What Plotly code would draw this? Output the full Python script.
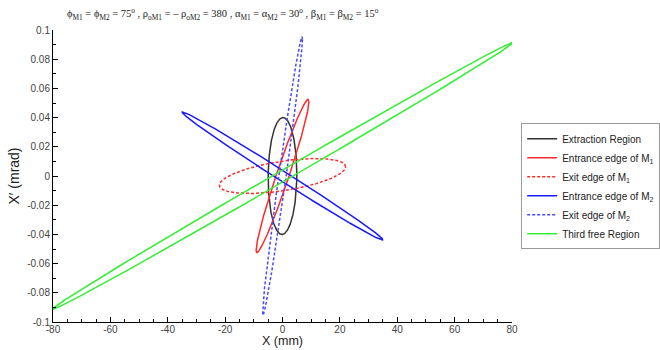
import numpy as np
import plotly.graph_objects as go

# Ellipse parameters
names = ["Extraction Region", "Entrance edge of M<sub>1</sub>", "Exit edge of M<sub>1</sub>",
         "Entrance edge of M<sub>2</sub>", "Exit edge of M<sub>2</sub>", "Third free Region"]
x_half_width = [5.0, 9.2, 22.0, 35.0, 6.95, 80.5]        # max |X| (mm)
xp_at_xmax = [0.0014, 0.0508, 0.0063, -0.0437, 0.0937, 0.0915]  # X' where X is max
xp_at_x0 = [0.040, 0.0131, 0.0102, 0.0040, 0.0178, 0.0042]     # X' half-height at X=0
colors = ["#333333", "#ff2a2a", "#ff2a2a", "#1a1aff", "#4a4aff", "#33ee33"]
dashes = ["solid", "solid", "3px,2px", "solid", "3px,2px", "solid"]

x_ticks = [-80, -60, -40, -20, 0, 20, 40, 60, 80]
x_ticklabels = ["-80", "-60", "-40", "-20", "0", "20", "40", "60", "80"]
y_ticks = [-0.1, -0.08, -0.06, -0.04, -0.02, 0, 0.02, 0.04, 0.06, 0.08, 0.1]
y_ticklabels = ["-0.1", "-0.08", "-0.06", "-0.04", "-0.02", "0", "0.02", "0.04", "0.06", "0.08", "0.1"]
title_text = ("ϕ<sub>M1</sub> = ϕ<sub>M2</sub> = 75<sup>o</sup> , ρ<sub>oM1</sub> = – ρ<sub>oM2</sub> = 380 , "
              "α<sub>M1</sub> = α<sub>M2</sub> = 30<sup>o</sup> , β<sub>M1</sub> = β<sub>M2</sub> = 15<sup>o</sup>")
x_title = "X (mm)"
y_title = "X′ (mrad)"

t = np.linspace(0, 2 * np.pi, 721)
fig = go.Figure()
for n, a, b, c, col, d in zip(names, x_half_width, xp_at_xmax, xp_at_x0, colors, dashes):
    fig.add_trace(go.Scatter(x=a * np.cos(t), y=b * np.cos(t) + c * np.sin(t), mode="lines",
                             name=n, line=dict(color=col, width=1.5, dash=d)))

fig.add_annotation(text=title_text, xref="paper", yref="paper", x=(65 - 53) / 459, y=1 + 16 / 292,
                   xanchor="left", yanchor="middle", showarrow=False,
                   font=dict(family="Times New Roman, Liberation Serif, serif", size=10.5, color="#222"))
fig.add_annotation(text=x_title, xref="paper", yref="paper", x=0.5, y=-(341 - 321.7) / 291.7,
                   xanchor="center", yanchor="middle", showarrow=False,
                   font=dict(size=12.5, color="#222"))

fig.update_layout(
    width=660, height=350,
    margin=dict(l=53, r=148, t=30, b=28, autoexpand=False),
    paper_bgcolor="white", plot_bgcolor="white",
    font=dict(family="Liberation Sans, Arial", color="#222"),
    legend=dict(x=1.02, xanchor="left", y=0.681, yanchor="top", bordercolor="#999", borderwidth=1,
                font=dict(size=10, color="#222"), itemwidth=30, tracegroupgap=0, bgcolor="white"),
    showlegend=True,
)
fig.update_xaxes(range=[-80, 80], showgrid=False, zeroline=False, showline=True, linecolor="black", linewidth=1,
                 ticks="inside", ticklen=5, tickcolor="black", tickvals=x_ticks, ticktext=x_ticklabels,
                 tickfont=dict(size=10, color="#444"), ticklabelstandoff=-2,
                 minor=dict(ticks="inside", dtick=5, ticklen=3, tickcolor="black"))
fig.update_yaxes(range=[-0.1, 0.1], showgrid=False, zeroline=False, showline=True, linecolor="black", linewidth=1,
                 ticks="inside", ticklen=5, tickcolor="black", tickvals=y_ticks, ticktext=y_ticklabels,
                 tickfont=dict(size=10, color="#444"),
                 minor=dict(ticks="inside", dtick=0.01, ticklen=3, tickcolor="black"),
                 title=dict(text=y_title, font=dict(size=14, color="#222"), standoff=4))
fig.write_html("out.html")
